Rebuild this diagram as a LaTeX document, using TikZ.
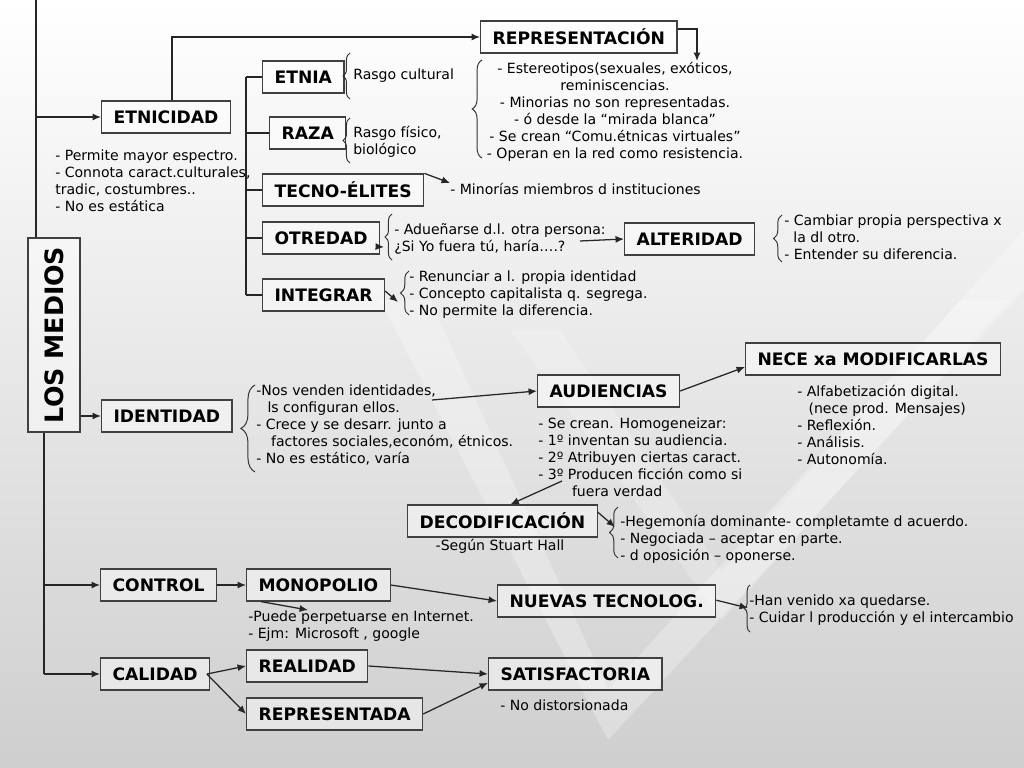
\documentclass[tikz,border=0pt]{standalone}
\usepackage{fontspec}
\setmainfont{DejaVu Sans}
\usetikzlibrary{arrows.meta,decorations.pathreplacing}

\begin{document}
\begin{tikzpicture}[x=0.025cm, y=-0.025cm,
        box/.style={rectangle, draw=black!75, line width=0.9pt, fill=white,
            fill opacity=0.45, text opacity=1, anchor=west,
            font=\bfseries\fontsize{12.2}{14}\selectfont,
            minimum height=0.8cm, inner xsep=8.5pt, inner ysep=2pt},
        txt/.style={font=\fontsize{10}{12.05}\selectfont, align=left,
            inner sep=0pt, anchor=north west},
        link/.style={line width=0.9pt, draw=black!85},
        arrow/.style={-{Latex[length=6pt,width=5pt]}, line width=0.9pt, draw=black!85},
        brc/.style={decorate, line width=0.7pt, draw=black!80,
            decoration={brace, amplitude=#1}},
        brc/.default=5pt
      ]
      % fondo
      \useasboundingbox (0,0) rectangle (1024,768);
      \shade[top color=white, middle color=black!9, bottom color=black!19]
        (0,0) rectangle (1024,768);
      \fill[white, opacity=0.28] (430,300) -- (608,690) -- (1024,230) -- (1024,290)
        -- (608,740) -- (380,300) -- cycle;
      \fill[white, opacity=0.22] (560,330) -- (722,571) -- (960,300) -- (1010,300)
        -- (722,620) -- (510,330) -- cycle;

      % nodo central
      \node[box, rotate=90, anchor=center, inner xsep=4pt,
        font=\bfseries\fontsize{18}{20}\selectfont,
        minimum width=4.85cm, minimum height=1.3cm] (medios) at (54,335) {LOS MEDIOS};
      \coordinate (top) at (36,0);
      \coordinate (bot) at (44,674);
      \draw[link] (top) -- (top |- medios.east);
      \draw[link] (bot |- medios.west) -- (bot);

      % ETNICIDAD
      \node[box] (etnicidad) at (101,117) {ETNICIDAD};
      \draw[arrow] (top |- etnicidad.west) -- (etnicidad.west);
      \node[txt] (etnote) at (55,150)
      {- Permite mayor espectro.\\- Connota caract.culturales,\\tradic, costumbres..\\- No es estática};

      \node[box] (repre) at (480,37) {REPRESENTACIÓN};
      \draw[arrow] ([xshift=0.15cm]etnicidad.north) |- (repre.west);
      \coordinate (repdown) at (697,61);
      \draw[arrow] ([yshift=0.2cm]repre.east) -| (repdown);
      \draw[brc=7pt] (482,158) -- (482,60);
      \node[txt, anchor=north, align=center] (repnote) at (615,62)
      {- Estereotipos(sexuales, exóticos,\\reminiscencias.\\- Minorias no son representadas.\\- ó desde la “mirada blanca”\\- Se crean “Comu.étnicas virtuales”\\- Operan en la red como resistencia.};

      % ramas
      \node[box] (etnia) at (262,77) {ETNIA};
      \node[box] (raza) at (269,133) {RAZA};
      \node[box] (tecno) at (262,190) {TECNO-ÉLITES};
      \node[box] (otredad) at (262,238) {OTREDAD};
      \node[box] (integrar) at (262,295) {INTEGRAR};
      \coordinate (tree) at (246,77);
      \draw[link] (tree |- etnia.west) -- (tree |- integrar.west);
      \foreach \n in {etnia, raza, tecno, otredad, integrar}{
          \draw[link] (tree |- \n.west) -- (\n.west);
        }

      \draw[brc] (350,99) -- (350,53);
      \node[txt, anchor=west] (etnianote) at (353,76) {Rasgo cultural};
      \draw[brc] (350,163) -- (350,118);
      \node[txt] (razanote) at (353,126) {Rasgo físico,\\biológico};

      \node[txt, anchor=west] (tnote) at (450,189) {- Minorías miembros d instituciones};
      \draw[arrow] (tecno.north east) -- (tnote.north west);

      \coordinate (otto) at (384,247);
      \draw[arrow] ([yshift=-0.22cm]otredad.east) -- (otto);
      \draw[brc] (392,260) -- (392,214);
      \node[txt] (otnote) at (394,223)
      {- Adueñarse d.l. otra persona:\\¿Si Yo fuera tú, haría….?};
      \node[box] (alteridad) at (624,239) {ALTERIDAD};
      \coordinate (otfrom) at (580,241);
      \draw[arrow] (otfrom) -- (alteridad.west);
      \draw[brc=6pt] (782,262) -- (782,215);
      \node[txt] (alnote) at (784,215)
      {- Cambiar propia perspectiva x\\\hspace*{6.5pt}la dl otro.\\- Entender su diferencia.};

      \coordinate (intto) at (398,302);
      \draw[arrow] ([yshift=0.1cm]integrar.east) -- (intto);
      \draw[brc=6pt] (409,315) -- (409,271);
      \node[txt] (intnote) at (409,271)
      {- Renunciar a l. propia identidad\\- Concepto capitalista q. segrega.\\- No permite la diferencia.};

      % IDENTIDAD
      \node[box] (identidad) at (101,416) {IDENTIDAD};
      \draw[arrow] (medios.south |- identidad.west) -- (identidad.west);
      \draw[brc=10pt] (255,472) -- (255,385);
      \node[txt] (idnote) at (256,385)
      {-Nos venden identidades,\\\hspace*{8pt}ls configuran ellos.\\- Crece y se desarr. junto a\\\hspace*{10.5pt}factores sociales,económ, étnicos.\\- No es estático, varía};
      \node[box] (audiencias) at (537,391) {AUDIENCIAS};
      \coordinate (idfrom) at (432,400);
      \draw[arrow] (idfrom) -- (audiencias.west);
      \node[box] (nece) at (745,359) {NECE xa MODIFICARLAS};
      \draw[arrow] (audiencias.east) -- ([yshift=-0.2cm]nece.west);
      \node[txt] (necenote) at (797,385)
      {- Alfabetización digital.\\\hspace*{8pt}(nece prod. Mensajes)\\- Reflexión.\\- Análisis.\\- Autonomía.};
      \node[txt] (audnote) at (538,418)
      {- Se crean. Homogeneizar:\\- 1º inventan su audiencia.\\- 2º Atribuyen ciertas caract.\\- 3º Producen ficción como si\\\hspace*{24pt}fuera verdad};
      \node[box] (decod) at (407,521) {DECODIFICACIÓN};
      \coordinate (adfrom) at (562,481);
      \draw[arrow] (adfrom) -- ([xshift=0.2cm]decod.north);
      \node[txt, anchor=center] (decnote) at (500,546) {-Según Stuart Hall};
      \coordinate (deto) at (615,527);
      \draw[arrow] ([yshift=0.22cm]decod.east) -- (deto);
      \draw[brc=6pt] (618,558) -- (618,507);
      \node[txt] (henote) at (620,515)
      {-Hegemonía dominante- completamte d acuerdo.\\- Negociada – aceptar en parte.\\- d oposición – oponerse.};

      % CONTROL
      \node[box] (control) at (100,585) {CONTROL};
      \draw[arrow] (bot |- control.west) -- (control.west);
      \node[box] (monopolio) at (246,585) {MONOPOLIO};
      \draw[arrow] (control) -- (monopolio);
      \node[box] (nuevas) at (497,601) {NUEVAS TECNOLOG.};
      \draw[arrow] (monopolio.east) -- (nuevas.west);
      \coordinate (moto) at (308,610);
      \draw[arrow] ([xshift=0.38cm]monopolio.south west) -- (moto);
      \node[txt] (monnote) at (248,611)
      {-Puede perpetuarse en Internet.\\- Ejm: Microsoft , google};
      \coordinate (nuto) at (748,608);
      \draw[arrow] ([yshift=0.02cm]nuevas.east) -- (nuto);
      \draw[brc=4pt] (750,632) -- (750,585);
      \node[txt] (nunote) at (749,595)
      {-Han venido xa quedarse.\\- Cuidar l producción y el intercambio};

      % CALIDAD
      \node[box] (calidad) at (100,674) {CALIDAD};
      \draw[arrow] (bot) -- (calidad.west);
      \node[box] (realidad) at (246,666) {REALIDAD};
      \node[box] (representada) at (246,714) {REPRESENTADA};
      \node[box] (satisf) at (488,674) {SATISFACTORIA};
      \draw[arrow] ([xshift=-0.08cm]calidad.east) -- (realidad.west);
      \draw[arrow] ([xshift=-0.08cm]calidad.east) -- (representada.west);
      \draw[arrow] (realidad.east) -- (satisf.west);
      \draw[arrow] (representada.east) -- ([yshift=-0.22cm]satisf.west);
      \node[txt, anchor=west] (satnote) at (500,705) {- No distorsionada};
    \end{tikzpicture}
\end{document}
